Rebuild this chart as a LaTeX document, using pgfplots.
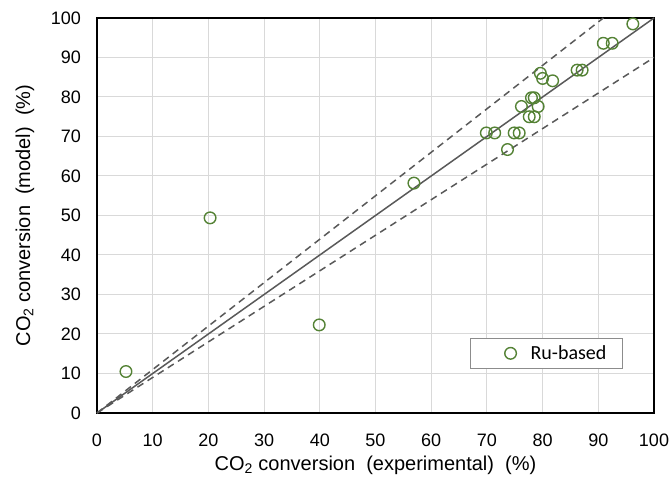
\documentclass[border=0pt]{standalone}
\usepackage{fontspec}
\setmainfont{Liberation Sans}
\newfontfamily\calibri{Carlito}
\usepackage{pgfplots}
\pgfplotsset{compat=1.18}
\definecolor{ptgreen}{RGB}{84,130,53}
\definecolor{lgray}{RGB}{217,217,217}
\definecolor{lnGray}{RGB}{89,89,89}
\pgfplotsset{rulegend/.style={legend image code/.code={\path[draw=none,fill=none] (0pt,-15pt) rectangle (60pt,15pt); \draw[##1] plot coordinates {(40pt,0pt)};}}}
\pgfplotstableread{
x y
5.2 10.5
20.3 49.4
39.9 22.3
56.9 58.2
69.9 70.9
71.4 70.9
74.9 70.9
75.8 70.9
73.7 66.7
76.2 77.6
78.0 79.8
78.5 79.8
79.2 77.6
77.6 75.0
78.5 75.0
79.6 86.0
80.0 84.7
81.8 84.1
86.2 86.8
87.1 86.8
90.9 93.6
92.5 93.6
96.2 98.5
}\rudata
\begin{document}
\begin{tikzpicture}
\path[use as bounding box] (-97pt,-69pt) rectangle (573pt,413pt);
\begin{axis}[
  at={(0pt,0pt)}, anchor=south west,
  scale only axis, width=557pt, height=395pt,
  xmin=0, xmax=100, ymin=0, ymax=100,
  xtick={0,10,...,100}, ytick={0,10,...,100},
  grid=major, major grid style={lgray, line width=1pt},
  major tick length=0pt,
  axis line style={black, line width=1.5pt},
  clip=false,
  /pgf/number format/assume math mode=true,
  tick label style={font=\fontsize{18}{20}\selectfont, inner sep=0pt},
  xticklabel style={anchor=base, yshift=-34pt},
  yticklabel style={anchor=east, xshift=-16pt},
  label style={font=\fontsize{20}{24}\selectfont},
  xlabel={CO\textsubscript{2} conversion\ \ (experimental)\ \ (\%)},
  ylabel={CO\textsubscript{2} conversion\ \ (model)\ \ (\%)},
  xlabel style={at={(axis description cs:0.5,-0.1316)}, anchor=center},
  ylabel style={at={(axis description cs:-0.1293,0.5)}, anchor=center},
  legend style={at={(axis description cs:0.944,0.19)}, anchor=north east,
    draw=black!45, line width=0.75pt, inner sep=0pt, fill=white,
    font=\calibri\fontsize{20}{22}\selectfont, nodes={inner sep=0pt}},
]
\addplot[lnGray, line width=1.5pt, forget plot] coordinates {(0,0) (100,100)};
\addplot[lnGray, line width=1.5pt, dash pattern=on 7pt off 5pt, forget plot] coordinates {(0,0) (90.91,100)};
\addplot[lnGray, line width=1.5pt, dash pattern=on 7pt off 5pt, forget plot] coordinates {(0,0) (100,90)};
\addplot[only marks, mark=o, mark size=5.8pt, ptgreen, line width=1.4pt, rulegend]
  table[x=x, y=y] {\rudata};
\addlegendentry{Ru-based\rule{16pt}{0pt}}
\end{axis}
\end{tikzpicture}
\end{document}
